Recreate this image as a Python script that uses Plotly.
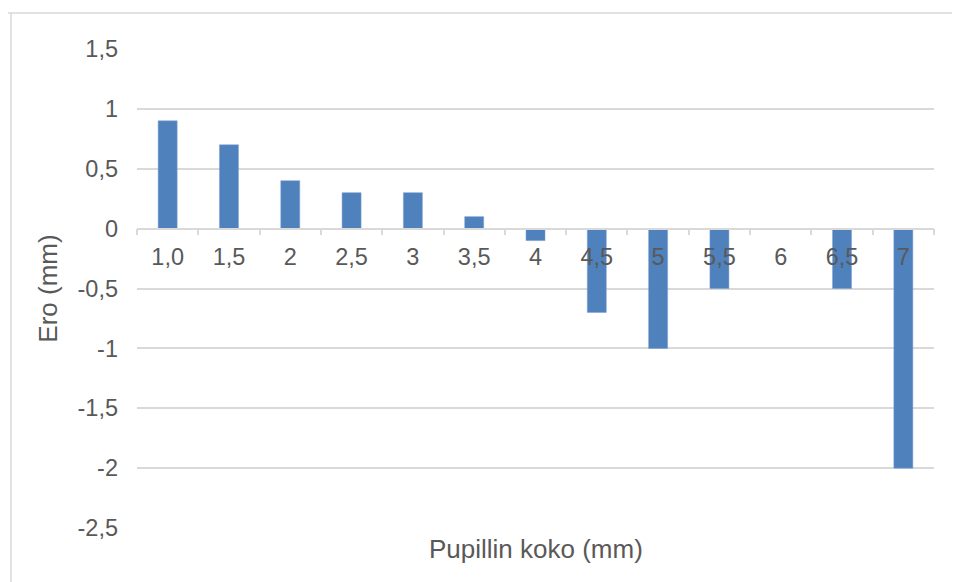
import plotly.graph_objects as go

categories = ["1,0", "1,5", "2", "2,5", "3", "3,5", "4", "4,5", "5", "5,5", "6", "6,5", "7"]
values = [0.9, 0.7, 0.4, 0.3, 0.3, 0.1, -0.1, -0.7, -1.0, -0.5, 0.0, -0.5, -2.0]
y_tickvals = [1.5, 1, 0.5, 0, -0.5, -1, -1.5, -2, -2.5]
y_ticktext = ["1,5", "1", "0,5", "0", "-0,5", "-1", "-1,5", "-2", "-2,5"]
x_title = "Pupillin koko (mm)"
y_title = "Ero (mm)"

y_min, y_max = -2.5, 1.5
font_color = "#595959"
grid_color = "#D9D9D9"
FONT = "Liberation Sans, Arial, sans-serif"
TICK_SIZE = 23.5
TITLE_SIZE = 26

fig = go.Figure()
fig.add_trace(go.Bar(
    x=categories, y=values,
    marker=dict(color="#4F81BD", line=dict(color="#7A9FD0", width=0.5)),
))

zero_pos = (0 - y_min) / (y_max - y_min)

fig.update_layout(
    width=960, height=582,
    margin=dict(l=129, r=34, t=41, b=62),
    paper_bgcolor="white", plot_bgcolor="white",
    bargap=0.69,
    showlegend=False,
    font=dict(family=FONT, size=TICK_SIZE, color=font_color),
    xaxis=dict(
        type="category",
        anchor="free", position=zero_pos,
        showline=True, linecolor=grid_color, linewidth=1.5,
        ticks="outside", tickson="boundaries", ticklen=6, tickcolor=grid_color, tickwidth=1.5,
        showgrid=False,
        ticklabelstandoff=7,
        tickfont=dict(family=FONT, size=TICK_SIZE, color=font_color),
        layer="above traces",
    ),
    yaxis=dict(
        range=[y_min, y_max],
        tickvals=y_tickvals, ticktext=y_ticktext,
        showgrid=True, gridcolor=grid_color, gridwidth=1.5,
        zeroline=False, showline=False, ticks="",
        ticklabelstandoff=18,
        tickfont=dict(family=FONT, size=TICK_SIZE, color=font_color),
        title=dict(text=y_title, font=dict(family=FONT, size=TITLE_SIZE, color=font_color), standoff=12),
    ),
    annotations=[dict(
        text=x_title, xref="paper", yref="paper", x=0.5, y=0, yshift=-21,
        yanchor="middle", showarrow=False,
        font=dict(family=FONT, size=TITLE_SIZE, color=font_color),
    )],
    shapes=[
        dict(type="line", xref="paper", yref="paper", x0=-137/797, x1=1.1, y0=1+36/479, y1=1+36/479,
             line=dict(color=grid_color, width=1.5)),
        dict(type="line", xref="paper", yref="paper", x0=-126/797, x1=-126/797, y0=1+36/479, y1=-0.2,
             line=dict(color=grid_color, width=1.5)),
    ],
)

fig.write_html("out.html")
